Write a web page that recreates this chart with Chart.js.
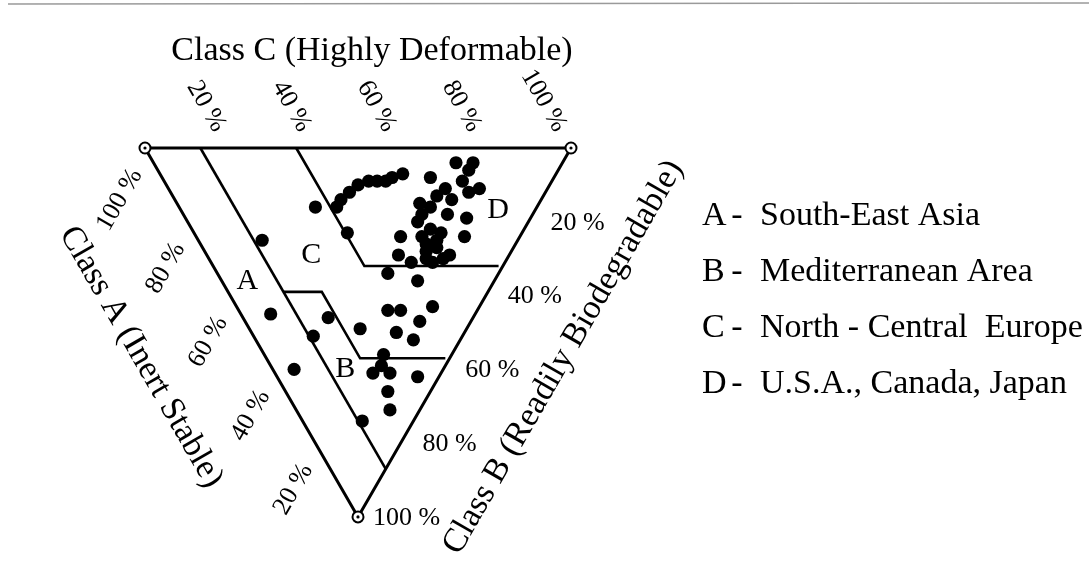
<!DOCTYPE html>
<html>
<head>
<meta charset="utf-8">
<script src="https://cdn.jsdelivr.net/npm/chart.js@4/dist/chart.umd.min.js"></script>
<style>
html,body{margin:0;padding:0;background:#fff;}
#wrap{width:1089px;height:571px;}
canvas{display:block;}
</style>
</head>
<body>
<div id="wrap"><canvas id="c" width="1089" height="571"></canvas></div>
<script>
// ---- Data (ternary percentages) ----
// Class A = Inert Stable, Class B = Readily Biodegradable, Class C = Highly Deformable
const regionDClassA = [47,47,46,45,43,41,39,38,36,29,25,21,21,21,16,18,24,25,28,25,20,15,26,22,28,23,19,13,26,20,19,14,18,41,26,21,17,19,22,15,21];
const regionDClassB = [16,14,12,10,9,9,9,8,7,8,4,4,6,9,11,12,11,13,15,16,18,19,20,22,24,24,25,24,29,28,30,29,27,23,18,26,31,23,31,30,14];
const regionDClassC = [37,39,42,45,48,50,52,54,57,63,71,75,73,70,73,70,65,62,57,59,62,66,54,56,48,53,56,63,45,52,51,57,55,36,56,53,52,58,47,55,65];

const regionCClassA = [52,60,26,18,21,18,11,12,16,11,25];
const regionCClassB = [16,25,34,36,44,44,43,47,50,52,49];
const regionCClassC = [32,15,40,46,35,38,46,41,34,37,26];

const regionBClassA = [34,35,16,15,16,12,5,10,7,12];
const regionBClassB = [46,51,56,59,61,61,62,66,71,74];
const regionBClassC = [20,14,28,26,23,27,33,24,22,14];

const regionAClassA = [48,35];
const regionAClassB = [45,60];
const regionAClassC = [7,5];

// Region boundaries as ternary vertices [A, B, C]
const boundaryAC = [[87,0,13],[0,87,13]];
const boundaryD  = [[64.5,0,35.5],[32.5,32,35.5],[1,32,67]];
const boundaryB  = [[48,39,13],[39,39,22],[21,57,22],[1,57,42]];
const triangleVertices = [[100,0,0],[0,0,100],[0,100,0],[100,0,0]];

const tickValues = [20,40,60,80,100];
const tickLabels = ['20 %','40 %','60 %','80 %','100 %'];

const regionLetters = ['A','B','C','D'];
const regionLetterPos = [[58,36,6],[23,60,17],[46.5,29,24.5],[8.7,16.8,74.5]];
const legendNames = ['South-East Asia','Mediterranean Area','North - Central  Europe','U.S.A., Canada, Japan'];

const axisTitleA = 'Class A (Inert Stable)';
const axisTitleB = 'Class B (Readily Biodegradable)';
const axisTitleC = 'Class C (Highly Deformable)';

// ---- Ternary -> cartesian (side = 100 units) ----
const S3 = Math.sqrt(3)/2;
function tern(a,b,c){ const s=a+b+c; a/=s; b/=s; c/=s; return {x:(c + b/2)*100, y:-b*S3*100}; }
function series(A,B,C){ return A.map((a,i)=>tern(a,B[i],C[i])); }
function path(list){ return list.map(v=>tern(v[0],v[1],v[2])); }

const PX = 4.26; // pixels per unit
const X_MIN = -145/PX, X_MAX = X_MIN + 1089/PX;
const Y_MAX = 148/PX,  Y_MIN = Y_MAX - 571/PX;

const SERIF = '"Liberation Serif", "Times New Roman", serif';

const dotStyle = {type:'scatter', pointRadius:6.6, pointHoverRadius:6.6, pointBackgroundColor:'#000', pointBorderWidth:0, showLine:false};
const lineStyle = (w)=>({type:'scatter', showLine:true, borderColor:'#000', borderWidth:w, pointRadius:0, pointHoverRadius:0, fill:false, borderJoinStyle:'miter', borderCapStyle:'butt', tension:0});

const textPlugin = {
  id:'texts',
  beforeDraw(chart){
    const ctx = chart.ctx;
    ctx.save();
    ctx.fillStyle='#fff'; ctx.fillRect(0,0,chart.width,chart.height);
    ctx.strokeStyle='#9a9a9a'; ctx.lineWidth=1.5;
    ctx.beginPath(); ctx.moveTo(8,4); ctx.lineTo(1089,3); ctx.stroke();
    ctx.restore();
  },
  afterDatasetsDraw(chart){
    const ctx = chart.ctx, xs = chart.scales.x, ys = chart.scales.y;
    const P = (a,b,c)=>{ const t=tern(a,b,c); return [xs.getPixelForValue(t.x), ys.getPixelForValue(t.y)]; };
    function txt(s,x,y,ang,align,base,size){
      ctx.save(); ctx.translate(x,y); ctx.rotate(ang);
      ctx.font = size+'px '+SERIF; ctx.fillStyle='#000';
      ctx.textAlign=align; ctx.textBaseline=base; ctx.fillText(s,0,0); ctx.restore();
    }
    const R60 = Math.PI/3;
    // Class C ticks (top edge)
    tickValues.forEach((v,i)=>{
      const [x,y] = P(100-v,0,v);
      txt(tickLabels[i], x-0.5*21, y-S3*21, R60, 'right','middle',26);
    });
    // Class A ticks (left edge)
    tickValues.forEach((v,i)=>{
      const [x,y] = P(v,100-v,0);
      txt(tickLabels[i], x-0.5*24+S3*4, y+S3*24+0.5*4, -R60, 'right','middle',26);
    });
    // Class B ticks (right edge)
    tickValues.forEach((v,i)=>{
      const [x,y] = P(0,v,100-v);
      txt(tickLabels[i], x+(v===100?15:22), y+1, 0, 'left','middle',26);
    });
    // Axis titles
    const [tx,ty] = P(50,0,50);
    txt(axisTitleC, tx+14, ty-88, 0, 'center','alphabetic',34);
    const [lx,ly] = P(50,50,0);
    txt(axisTitleA, lx-S3*108-0.5*34, ly+0.5*108-S3*34, R60, 'center','middle',34);
    const [rx,ry] = P(0,50,50);
    txt(axisTitleB, rx+S3*98+0.5*28, ry+0.5*98-S3*28, -R60, 'center','middle',34);
    // Region letters
    regionLetters.forEach((L,i)=>{
      const p = regionLetterPos[i]; const [x,y]=P(p[0],p[1],p[2]);
      txt(L, x, y, 0, 'center','middle',30);
    });
    // Legend
    regionLetters.forEach((L,i)=>{
      const yb = 225 + i*56;
      txt(L, 702, yb, 0, 'left','alphabetic',34);
      txt('-', 737, yb, 0, 'center','alphabetic',34);
      txt(legendNames[i], 760, yb, 0, 'left','alphabetic',34);
    });
  }
};

const vertexPts = path(triangleVertices.slice(0,3));

new Chart(document.getElementById('c'), {
  type:'scatter',
  data:{ datasets:[
    Object.assign({label:'D', data:series(regionDClassA,regionDClassB,regionDClassC)}, dotStyle),
    Object.assign({label:'C', data:series(regionCClassA,regionCClassB,regionCClassC)}, dotStyle),
    Object.assign({label:'B', data:series(regionBClassA,regionBClassB,regionBClassC)}, dotStyle),
    Object.assign({label:'A', data:series(regionAClassA,regionAClassB,regionAClassC)}, dotStyle),
    {label:'vertex-dot', type:'scatter', data:vertexPts, pointRadius:1.6, pointBackgroundColor:'#000', pointBorderWidth:0},
    {label:'vertex', type:'scatter', data:vertexPts, pointRadius:5.5, pointBackgroundColor:'#fff', pointBorderColor:'#000', pointBorderWidth:2},
    Object.assign({label:'triangle', data:path(triangleVertices)}, lineStyle(3)),
    Object.assign({label:'bAC', data:path(boundaryAC)}, lineStyle(2.6)),
    Object.assign({label:'bD', data:path(boundaryD)}, lineStyle(2.6)),
    Object.assign({label:'bB', data:path(boundaryB)}, lineStyle(2.6))
  ]},
  options:{
    responsive:false, animation:false, devicePixelRatio:1, events:[],
    layout:{padding:0, autoPadding:false},
    plugins:{legend:{display:false}, tooltip:{enabled:false}, title:{display:false}},
    scales:{
      x:{type:'linear', min:X_MIN, max:X_MAX, display:false},
      y:{type:'linear', min:Y_MIN, max:Y_MAX, display:false}
    }
  },
  plugins:[textPlugin]
});
</script>
</body>
</html>
